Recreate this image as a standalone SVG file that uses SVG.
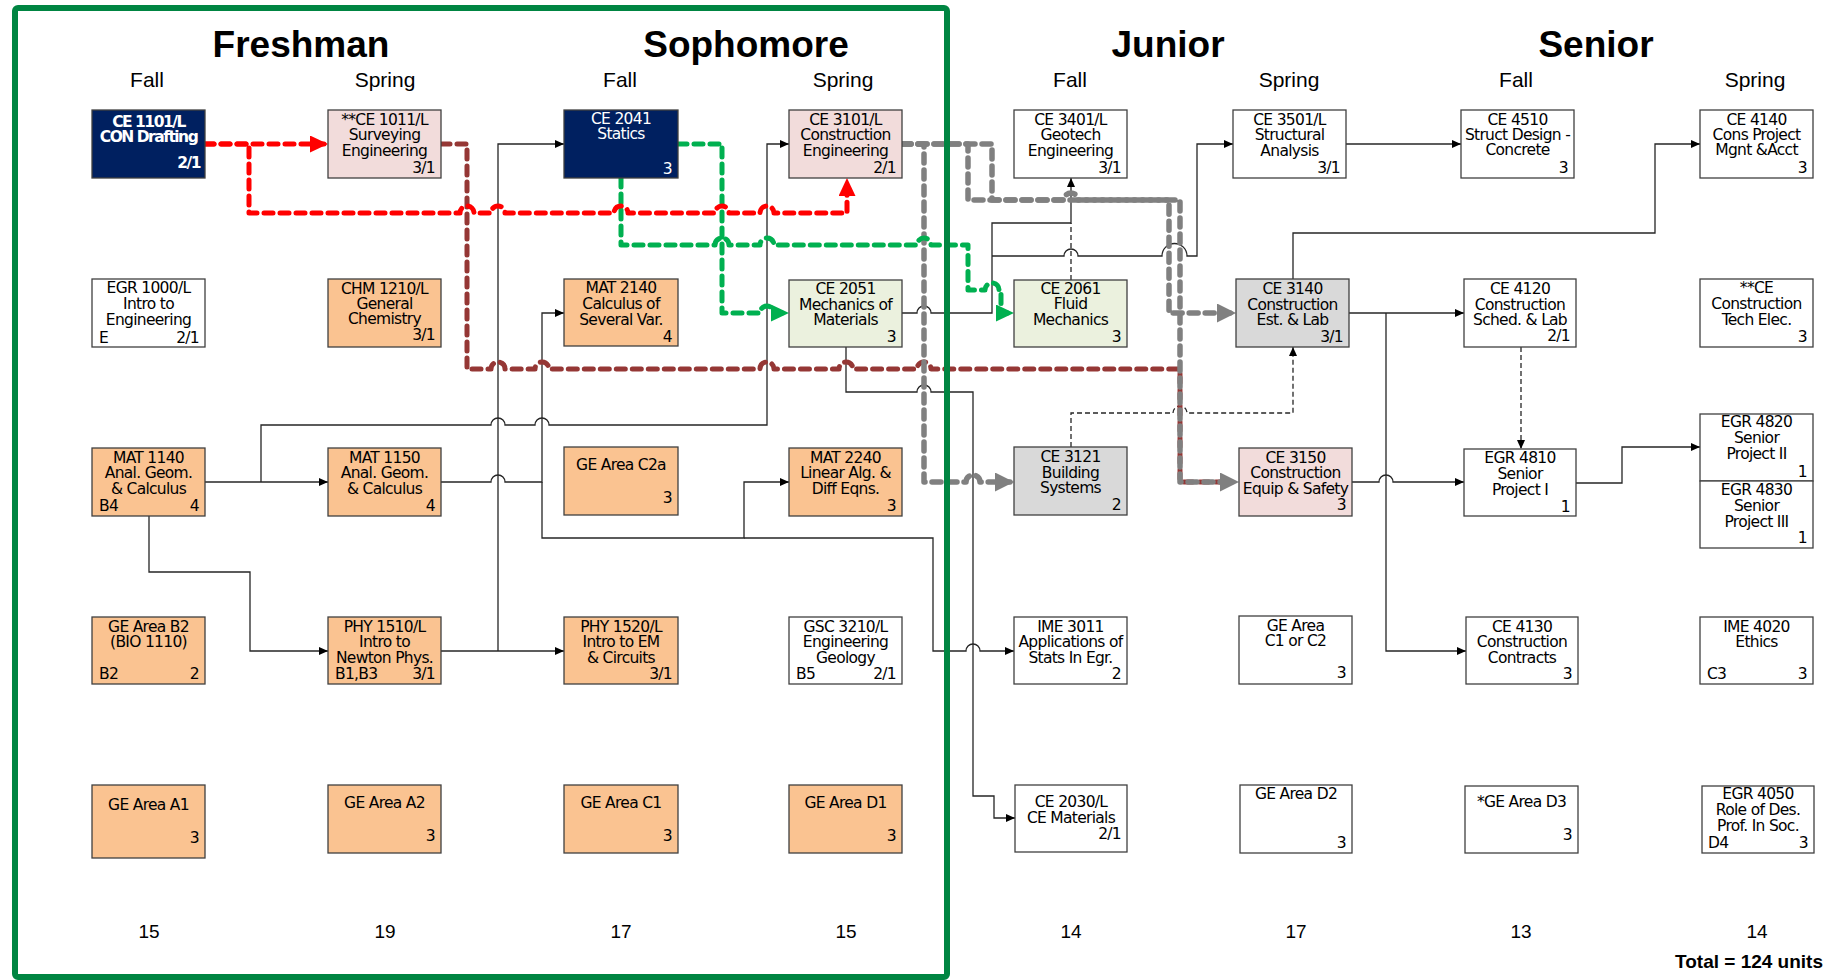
<svg xmlns="http://www.w3.org/2000/svg" width="1826" height="980" viewBox="0 0 1826 980">
<style>
.box{stroke:#404040;stroke-width:1.3}
.nv{fill:#002060}.or{fill:#fac391}.pk{fill:#f2dcdb}.lg{fill:#ebf1de}.gy{fill:#d9d9d9}.wh{fill:#fff}
.t{font-family:"DejaVu Sans",sans-serif;font-size:15.5px;letter-spacing:-0.7px;fill:#000}
.c{text-anchor:middle}.r{text-anchor:end}.l{text-anchor:start}
.w{fill:#fff}.b{font-weight:bold;letter-spacing:-1.5px}
.hd{font-family:"Liberation Sans",Arial,sans-serif;font-weight:bold;font-size:37px;text-anchor:middle;fill:#000}
.sh{font-family:"Liberation Sans",Arial,sans-serif;font-size:21px;text-anchor:middle;fill:#000}
.tot{font-family:"Liberation Sans",Arial,sans-serif;font-size:19px;text-anchor:middle;fill:#000}
.k{fill:none;stroke:#262626;stroke-width:1.3}
.kd{stroke-dasharray:5 3}
.thick{fill:none;stroke-width:5;stroke-linecap:round;stroke-linejoin:round;stroke-dasharray:9 7}
.red{stroke:#ff0000}.grn{stroke:#00b050}.brn{stroke:#953735}.gry{stroke:#808080;stroke-width:5.5}
</style>
<defs>
<marker id="mK" markerUnits="userSpaceOnUse" markerWidth="9" markerHeight="8" refX="9" refY="4" orient="auto"><path d="M0,0 L9,4 L0,8 z" fill="#000"/></marker>
<marker id="mR" markerUnits="userSpaceOnUse" markerWidth="18" markerHeight="17" refX="14" refY="8.5" orient="auto"><path d="M0,0 L18,8.5 L0,17 z" fill="#ff0000"/></marker>
<marker id="mG" markerUnits="userSpaceOnUse" markerWidth="18" markerHeight="17" refX="14" refY="8.5" orient="auto"><path d="M0,0 L18,8.5 L0,17 z" fill="#00b050"/></marker>
<marker id="mY" markerUnits="userSpaceOnUse" markerWidth="19" markerHeight="19" refX="15" refY="9.5" orient="auto"><path d="M0,0 L19,9.5 L0,19 z" fill="#808080"/></marker>
</defs>
<rect width="1826" height="980" fill="#fff"/>

<g id="headers">
<text class="hd" x="301" y="57">Freshman</text>
<text class="hd" x="746" y="57">Sophomore</text>
<text class="hd" x="1168" y="57">Junior</text>
<text class="hd" x="1596" y="57">Senior</text>
<text class="sh" x="147" y="87">Fall</text>
<text class="sh" x="385" y="87">Spring</text>
<text class="sh" x="620" y="87">Fall</text>
<text class="sh" x="843" y="87">Spring</text>
<text class="sh" x="1070" y="87">Fall</text>
<text class="sh" x="1289" y="87">Spring</text>
<text class="sh" x="1516" y="87">Fall</text>
<text class="sh" x="1755" y="87">Spring</text>
</g>

<g id="connectors">
<path class="k" marker-end="url(#mK)" d="M205,482 H328"/>
<path class="k" marker-end="url(#mK)" d="M261,482 V425 H491 a7,7 0 0 1 14,0 H535 a7,7 0 0 1 14,0 H767 V144 H789"/>
<path class="k" marker-end="url(#mK)" d="M149,516 V572 H250 V651 H328"/>
<path class="k" marker-end="url(#mK)" d="M441,482 H491 a7,7 0 0 1 14,0 H542 V313 H564"/>
<path class="k" marker-end="url(#mK)" d="M542,482 V538 H744 V482 H789"/>
<path class="k" marker-end="url(#mK)" d="M744,538 H933 V651 H966 a7,7 0 0 1 14,0 H1014"/>
<path class="k" marker-end="url(#mK)" d="M441,651 H564"/>
<path class="k" marker-end="url(#mK)" d="M498,651 V144 H564"/>
<path class="k" marker-end="url(#mK)" d="M846,347 V392 H917 a7,7 0 0 1 14,0 H973 V796 H994 V818 H1015"/>
<path class="k" marker-end="url(#mK)" d="M902,313 H917 a7,7 0 0 1 14,0 H992 V223 H1071 V178"/>
<path class="k" marker-end="url(#mK)" d="M992,256 H1064 a7,7 0 0 1 14,0 H1162 a12.5,12.5 0 0 1 25,0 H1197 V144 H1233"/>
<path class="k kd" d="M1071,280 V223"/>
<path class="k kd" marker-end="url(#mK)" d="M1071,447 V413 H1173 a7,7 0 0 1 14,0 H1293 V347"/>
<path class="k" marker-end="url(#mK)" d="M1349,313 H1464"/>
<path class="k" marker-end="url(#mK)" d="M1386,313 V651 H1466"/>
<path class="k" marker-end="url(#mK)" d="M1293,279 V233 H1655 V144 H1700"/>
<path class="k" marker-end="url(#mK)" d="M1346,144 H1461"/>
<path class="k" marker-end="url(#mK)" d="M1352,482 H1379 a7,7 0 0 1 14,0 H1464"/>
<path class="k" marker-end="url(#mK)" d="M1576,483 H1622 V447 H1700"/>
<path class="k kd" marker-end="url(#mK)" d="M1521,347 V449"/>

<path class="thick brn" d="M441,144 H467 V369 H491 a7,7 0 0 1 14,0 H535 a7,7 0 0 1 14,0 H760 a7,7 0 0 1 14,0 H839 a7,7 0 0 1 14,0 H917 a7,7 0 0 1 14,0 H1180 V482 H1232"/>
<path class="thick gry" marker-end="url(#mY)" d="M902,144 H924 V482 H966 a7,7 0 0 1 14,0 H1010"/>
<path class="thick gry" marker-end="url(#mY)" d="M902,144 H968 V200 H1064 a7,7 0 0 1 14,0 H1169 V313 H1232"/>
<path class="thick gry" marker-end="url(#mY)" d="M902,144 H992 V200 H1180 V482 H1235"/>
<path class="thick grn" marker-end="url(#mG)" d="M678,144 H722 V313 H760 a7,7 0 0 1 14,0 H785"/>
<path class="thick grn" marker-end="url(#mG)" d="M621,178 V245 H715 a7,7 0 0 1 14,0 H760 a7,7 0 0 1 14,0 H917 a7,7 0 0 1 14,0 H968 V290 H985 a7,7 0 0 1 14,0 H1001 V313 H1010"/>
<path class="thick red" marker-end="url(#mR)" d="M205,144 H324"/>
<path class="thick red" marker-end="url(#mR)" d="M205,144 H249 V213 H460 a7,7 0 0 1 14,0 H491 a7,7 0 0 1 14,0 H614 a7,7 0 0 1 14,0 H715 a7,7 0 0 1 14,0 H760 a7,7 0 0 1 14,0 H847 V182"/>
</g>

<g id="n-ce1101"><rect class="box nv" x="92" y="110" width="113" height="68"/><text class="t c w b" x="148.5" y="127">CE 1101/L</text><text class="t c w b" x="148.5" y="142">CON Drafting</text><text class="t r w b" x="200" y="168">2/1</text></g>
<g id="n-egr1000"><rect class="box wh" x="92" y="279" width="113" height="68"/><text class="t c" x="148.5" y="293">EGR 1000/L</text><text class="t c" x="148.5" y="309">Intro to</text><text class="t c" x="148.5" y="325">Engineering</text><text class="t l" x="99" y="343">E</text><text class="t r" x="199" y="343">2/1</text></g>
<g id="n-mat1140"><rect class="box or" x="92" y="448" width="113" height="68"/><text class="t c" x="148.5" y="463">MAT 1140</text><text class="t c" x="148.5" y="478">Anal. Geom.</text><text class="t c" x="148.5" y="494">&amp; Calculus</text><text class="t l" x="99" y="511">B4</text><text class="t r" x="199" y="511">4</text></g>
<g id="n-geb2"><rect class="box or" x="92" y="617" width="113" height="67"/><text class="t c" x="148.5" y="632">GE Area B2</text><text class="t c" x="148.5" y="647">(BIO 1110)</text><text class="t l" x="99" y="679">B2</text><text class="t r" x="199" y="679">2</text></g>
<g id="n-gea1"><rect class="box or" x="92" y="785" width="113" height="73"/><text class="t c" x="148.5" y="810">GE Area A1</text><text class="t r" x="199" y="843">3</text></g>

<g id="n-ce1011"><rect class="box pk" x="328" y="110" width="113" height="68"/><text class="t c" x="384.5" y="125">**CE 1011/L</text><text class="t c" x="384.5" y="140">Surveying</text><text class="t c" x="384.5" y="156">Engineering</text><text class="t r" x="435" y="173">3/1</text></g>
<g id="n-chm1210"><rect class="box or" x="328" y="279" width="113" height="68"/><text class="t c" x="384.5" y="294">CHM 1210/L</text><text class="t c" x="384.5" y="309">General</text><text class="t c" x="384.5" y="324">Chemistry</text><text class="t r" x="435" y="340">3/1</text></g>
<g id="n-mat1150"><rect class="box or" x="328" y="448" width="113" height="68"/><text class="t c" x="384.5" y="463">MAT 1150</text><text class="t c" x="384.5" y="478">Anal. Geom.</text><text class="t c" x="384.5" y="494">&amp; Calculus</text><text class="t r" x="435" y="511">4</text></g>
<g id="n-phy1510"><rect class="box or" x="328" y="617" width="113" height="67"/><text class="t c" x="384.5" y="632">PHY 1510/L</text><text class="t c" x="384.5" y="647">Intro to</text><text class="t c" x="384.5" y="663">Newton Phys.</text><text class="t l" x="335" y="679">B1,B3</text><text class="t r" x="435" y="679">3/1</text></g>
<g id="n-gea2"><rect class="box or" x="328" y="785" width="113" height="68"/><text class="t c" x="384.5" y="808">GE Area A2</text><text class="t r" x="435" y="841">3</text></g>

<g id="n-ce2041"><rect class="box nv" x="564" y="110" width="114" height="68"/><text class="t c w" x="621" y="124">CE 2041</text><text class="t c w" x="621" y="139">Statics</text><text class="t r w" x="672" y="174">3</text></g>
<g id="n-mat2140"><rect class="box or" x="564" y="279" width="114" height="67"/><text class="t c" x="621" y="293">MAT 2140</text><text class="t c" x="621" y="309">Calculus of</text><text class="t c" x="621" y="325">Several Var.</text><text class="t r" x="672" y="342">4</text></g>
<g id="n-gec2a"><rect class="box or" x="564" y="447" width="114" height="68"/><text class="t c" x="621" y="470">GE Area C2a</text><text class="t r" x="672" y="503">3</text></g>
<g id="n-phy1520"><rect class="box or" x="564" y="617" width="114" height="67"/><text class="t c" x="621" y="632">PHY 1520/L</text><text class="t c" x="621" y="647">Intro to EM</text><text class="t c" x="621" y="663">&amp; Circuits</text><text class="t r" x="672" y="679">3/1</text></g>
<g id="n-gec1"><rect class="box or" x="564" y="785" width="114" height="68"/><text class="t c" x="621" y="808">GE Area C1</text><text class="t r" x="672" y="841">3</text></g>

<g id="n-ce3101"><rect class="box pk" x="789" y="110" width="113" height="68"/><text class="t c" x="845.5" y="125">CE 3101/L</text><text class="t c" x="845.5" y="140">Construction</text><text class="t c" x="845.5" y="156">Engineering</text><text class="t r" x="896" y="173">2/1</text></g>
<g id="n-ce2051"><rect class="box lg" x="789" y="280" width="113" height="67"/><text class="t c" x="845.5" y="294">CE 2051</text><text class="t c" x="845.5" y="310">Mechanics of</text><text class="t c" x="845.5" y="325">Materials</text><text class="t r" x="896" y="342">3</text></g>
<g id="n-mat2240"><rect class="box or" x="789" y="448" width="113" height="68"/><text class="t c" x="845.5" y="463">MAT 2240</text><text class="t c" x="845.5" y="478">Linear Alg. &amp;</text><text class="t c" x="845.5" y="494">Diff Eqns.</text><text class="t r" x="896" y="511">3</text></g>
<g id="n-gsc3210"><rect class="box wh" x="789" y="617" width="113" height="67"/><text class="t c" x="845.5" y="632">GSC 3210/L</text><text class="t c" x="845.5" y="647">Engineering</text><text class="t c" x="845.5" y="663">Geology</text><text class="t l" x="796" y="679">B5</text><text class="t r" x="896" y="679">2/1</text></g>
<g id="n-ged1"><rect class="box or" x="789" y="785" width="113" height="68"/><text class="t c" x="845.5" y="808">GE Area D1</text><text class="t r" x="896" y="841">3</text></g>

<g id="n-ce3401"><rect class="box wh" x="1014" y="110" width="113" height="68"/><text class="t c" x="1070.5" y="125">CE 3401/L</text><text class="t c" x="1070.5" y="140">Geotech</text><text class="t c" x="1070.5" y="156">Engineering</text><text class="t r" x="1121" y="173">3/1</text></g>
<g id="n-ce2061"><rect class="box lg" x="1014" y="280" width="113" height="67"/><text class="t c" x="1070.5" y="294">CE 2061</text><text class="t c" x="1070.5" y="309">Fluid</text><text class="t c" x="1070.5" y="325">Mechanics</text><text class="t r" x="1121" y="342">3</text></g>
<g id="n-ce3121"><rect class="box gy" x="1014" y="447" width="113" height="68"/><text class="t c" x="1070.5" y="462">CE 3121</text><text class="t c" x="1070.5" y="478">Building</text><text class="t c" x="1070.5" y="493">Systems</text><text class="t r" x="1121" y="510">2</text></g>
<g id="n-ime3011"><rect class="box wh" x="1014" y="617" width="113" height="67"/><text class="t c" x="1070.5" y="632">IME 3011</text><text class="t c" x="1070.5" y="647">Applications of</text><text class="t c" x="1070.5" y="663">Stats In Egr.</text><text class="t r" x="1121" y="679">2</text></g>
<g id="n-ce2030"><rect class="box wh" x="1015" y="785" width="112" height="67"/><text class="t c" x="1071" y="807">CE 2030/L</text><text class="t c" x="1071" y="823">CE Materials</text><text class="t r" x="1121" y="839">2/1</text></g>

<g id="n-ce3501"><rect class="box wh" x="1233" y="110" width="113" height="68"/><text class="t c" x="1289.5" y="125">CE 3501/L</text><text class="t c" x="1289.5" y="140">Structural</text><text class="t c" x="1289.5" y="156">Analysis</text><text class="t r" x="1340" y="173">3/1</text></g>
<g id="n-ce3140"><rect class="box gy" x="1236" y="279" width="113" height="68"/><text class="t c" x="1292.5" y="294">CE 3140</text><text class="t c" x="1292.5" y="310">Construction</text><text class="t c" x="1292.5" y="325">Est. &amp; Lab</text><text class="t r" x="1343" y="342">3/1</text></g>
<g id="n-ce3150"><rect class="box pk" x="1239" y="448" width="113" height="68"/><text class="t c" x="1295.5" y="463">CE 3150</text><text class="t c" x="1295.5" y="478">Construction</text><text class="t c" x="1295.5" y="494">Equip &amp; Safety</text><text class="t r" x="1346" y="510">3</text></g>
<g id="n-gec1c2"><rect class="box wh" x="1239" y="616" width="113" height="68"/><text class="t c" x="1295.5" y="631">GE Area</text><text class="t c" x="1295.5" y="646">C1 or C2</text><text class="t r" x="1346" y="678">3</text></g>
<g id="n-ged2"><rect class="box wh" x="1240" y="785" width="112" height="68"/><text class="t c" x="1296" y="799">GE Area D2</text><text class="t r" x="1346" y="848">3</text></g>

<g id="n-ce4510"><rect class="box wh" x="1461" y="110" width="113" height="68"/><text class="t c" x="1517.5" y="125">CE 4510</text><text class="t c" x="1517.5" y="140">Struct Design -</text><text class="t c" x="1517.5" y="155">Concrete</text><text class="t r" x="1568" y="173">3</text></g>
<g id="n-ce4120"><rect class="box wh" x="1464" y="279" width="112" height="68"/><text class="t c" x="1520" y="294">CE 4120</text><text class="t c" x="1520" y="310">Construction</text><text class="t c" x="1520" y="325">Sched. &amp; Lab</text><text class="t r" x="1570" y="341">2/1</text></g>
<g id="n-egr4810"><rect class="box wh" x="1464" y="449" width="112" height="67"/><text class="t c" x="1520" y="463">EGR 4810</text><text class="t c" x="1520" y="479">Senior</text><text class="t c" x="1520" y="495">Project I</text><text class="t r" x="1570" y="512">1</text></g>
<g id="n-ce4130"><rect class="box wh" x="1466" y="617" width="112" height="67"/><text class="t c" x="1522" y="632">CE 4130</text><text class="t c" x="1522" y="647">Construction</text><text class="t c" x="1522" y="663">Contracts</text><text class="t r" x="1572" y="679">3</text></g>
<g id="n-ged3"><rect class="box wh" x="1465" y="786" width="113" height="67"/><text class="t c" x="1521.5" y="807">*GE Area D3</text><text class="t r" x="1572" y="840">3</text></g>

<g id="n-ce4140"><rect class="box wh" x="1700" y="110" width="113" height="68"/><text class="t c" x="1756.5" y="125">CE 4140</text><text class="t c" x="1756.5" y="140">Cons Project</text><text class="t c" x="1756.5" y="155">Mgnt &amp;Acct</text><text class="t r" x="1807" y="173">3</text></g>
<g id="n-cetech"><rect class="box wh" x="1700" y="279" width="113" height="68"/><text class="t c" x="1756.5" y="293">**CE</text><text class="t c" x="1756.5" y="309">Construction</text><text class="t c" x="1756.5" y="325">Tech Elec.</text><text class="t r" x="1807" y="342">3</text></g>
<g id="n-egr4820"><rect class="box wh" x="1700" y="414" width="113" height="67"/><text class="t c" x="1756.5" y="427">EGR 4820</text><text class="t c" x="1756.5" y="443">Senior</text><text class="t c" x="1756.5" y="459">Project II</text><text class="t r" x="1807" y="477">1</text></g>
<g id="n-egr4830"><rect class="box wh" x="1700" y="481" width="113" height="67"/><text class="t c" x="1756.5" y="495">EGR 4830</text><text class="t c" x="1756.5" y="511">Senior</text><text class="t c" x="1756.5" y="527">Project III</text><text class="t r" x="1807" y="543">1</text></g>
<g id="n-ime4020"><rect class="box wh" x="1700" y="617" width="113" height="67"/><text class="t c" x="1756.5" y="632">IME 4020</text><text class="t c" x="1756.5" y="647">Ethics</text><text class="t l" x="1707" y="679">C3</text><text class="t r" x="1807" y="679">3</text></g>
<g id="n-egr4050"><rect class="box wh" x="1702" y="786" width="112" height="67"/><text class="t c" x="1758" y="799">EGR 4050</text><text class="t c" x="1758" y="815">Role of Des.</text><text class="t c" x="1758" y="831">Prof. In Soc.</text><text class="t l" x="1708" y="848">D4</text><text class="t r" x="1808" y="848">3</text></g>

<g id="totals">
<text class="tot" x="149" y="938">15</text>
<text class="tot" x="385" y="938">19</text>
<text class="tot" x="621" y="938">17</text>
<text class="tot" x="846" y="938">15</text>
<text class="tot" x="1071" y="938">14</text>
<text class="tot" x="1296" y="938">17</text>
<text class="tot" x="1521" y="938">13</text>
<text class="tot" x="1757" y="938">14</text>
<text x="1823" y="968" font-family="Liberation Sans, Arial, sans-serif" font-size="19" font-weight="bold" text-anchor="end">Total = 124 units</text>
</g>

<rect id="lower-division-frame" x="15" y="8" width="932" height="969" rx="3" fill="none" stroke="#008542" stroke-width="6"/>
</svg>
